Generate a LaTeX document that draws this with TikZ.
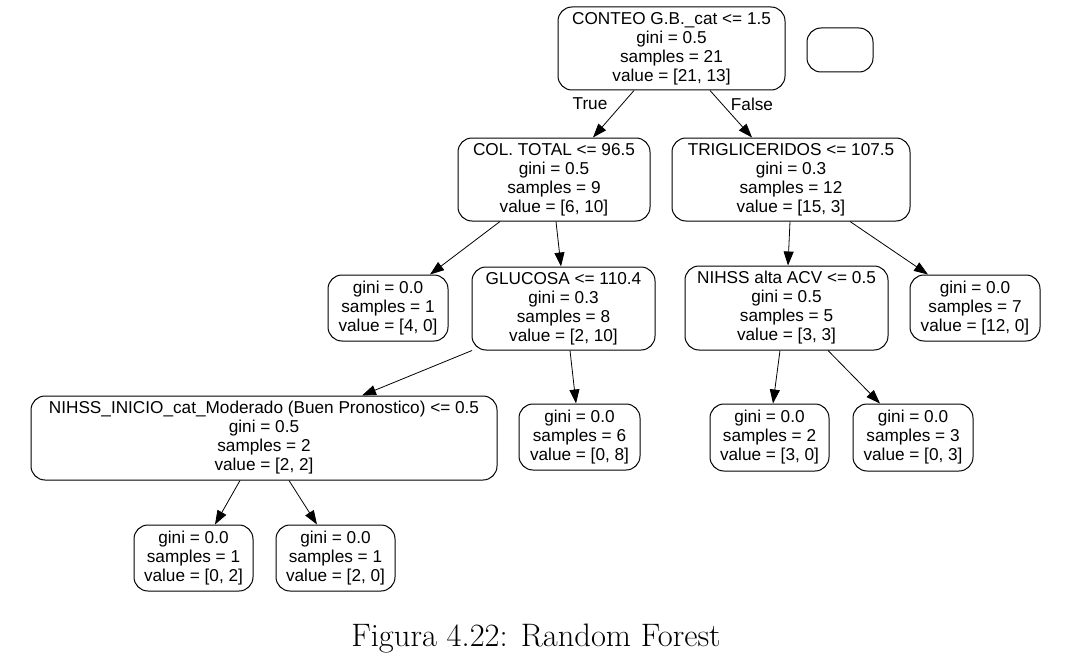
\documentclass[tikz,border=0pt]{standalone}
\usepackage{fontspec}
\newfontfamily\arialf{Liberation Sans}
\usetikzlibrary{arrows.meta}
\tikzset{
  tbox/.style={draw=black, line width=1pt, rounded corners=14pt, inner sep=0pt,
    align=center, font=\arialf\fontsize{17.2}{19}\selectfont},
  edge/.style={line width=0.8pt, -{Triangle[length=14pt,width=10pt]}},
  elabel/.style={font=\arialf\fontsize{17.2}{19}\selectfont, inner sep=0pt}
}
\begin{document}
\begin{tikzpicture}[x=1pt,y=-1pt]
\useasboundingbox (0,0) rectangle (1074,661);
\node[tbox, minimum width=227pt, minimum height=83pt] (root) at (671.5,48.5) {CONTEO G.B.\_cat <= 1.5\\gini = 0.5\\samples = 21\\value = [21, 13]};
\node[tbox, minimum width=66pt, minimum height=44pt] (empty) at (840,50) {};
\node[tbox, minimum width=192pt, minimum height=83pt] (col) at (554,179.5) {COL. TOTAL <= 96.5\\gini = 0.5\\samples = 9\\value = [6, 10]};
\node[tbox, minimum width=238pt, minimum height=83pt] (trig) at (791,179.5) {TRIGLICERIDOS <= 107.5\\gini = 0.3\\samples = 12\\value = [15, 3]};
\node[tbox, minimum width=120pt, minimum height=66pt] (l1) at (388,308) {gini = 0.0\\samples = 1\\value = [4, 0]};
\node[tbox, minimum width=183pt, minimum height=83pt] (glu) at (563.5,308.5) {GLUCOSA <= 110.4\\gini = 0.3\\samples = 8\\value = [2, 10]};
\node[tbox, minimum width=203pt, minimum height=84pt] (nih) at (786.5,308) {NIHSS alta ACV <= 0.5\\gini = 0.5\\samples = 5\\value = [3, 3]};
\node[tbox, minimum width=130pt, minimum height=66pt] (l7) at (975,308) {gini = 0.0\\samples = 7\\value = [12, 0]};
\node[tbox, minimum width=466pt, minimum height=84pt] (ini) at (264,438) {NIHSS\_INICIO\_cat\_Moderado (Buen Pronostico) <= 0.5\\gini = 0.5\\samples = 2\\value = [2, 2]};
\node[tbox, minimum width=121pt, minimum height=66pt] (l6) at (579.5,437) {gini = 0.0\\samples = 6\\value = [0, 8]};
\node[tbox, minimum width=119pt, minimum height=67pt] (l2) at (769.5,437.5) {gini = 0.0\\samples = 2\\value = [3, 0]};
\node[tbox, minimum width=120pt, minimum height=67pt] (l3) at (913,437.5) {gini = 0.0\\samples = 3\\value = [0, 3]};
\node[tbox, minimum width=119pt, minimum height=66pt] (l02) at (193.5,558) {gini = 0.0\\samples = 1\\value = [0, 2]};
\node[tbox, minimum width=119pt, minimum height=66pt] (l20) at (335.5,558) {gini = 0.0\\samples = 1\\value = [2, 0]};

\draw[edge] ([xshift=-37.5pt]root.south) -- ([xshift=39pt]col.north);
\draw[edge] ([xshift=38.5pt]root.south) -- ([xshift=-39pt]trig.north);
\draw[edge] ([xshift=-54pt]col.south) -- ([xshift=42pt]l1.north);
\draw[edge] ([xshift=2pt]col.south) -- ([xshift=-2.5pt]glu.north);
\draw[edge] ([xshift=-1pt]trig.south) -- ([xshift=1.5pt]nih.north);
\draw[edge] ([xshift=59pt]trig.south) -- ([xshift=-47pt]l7.north);
\draw[edge] ([xshift=-91.5pt]glu.south) -- ([xshift=98pt]ini.north);
\draw[edge] ([xshift=6.5pt]glu.south) -- ([xshift=-3.5pt]l6.north);
\draw[edge] ([xshift=-6.5pt]nih.south) -- ([xshift=3.5pt]l2.north);
\draw[edge] ([xshift=41.5pt]nih.south) -- ([xshift=-33pt]l3.north);
\draw[edge] ([xshift=-24pt]ini.south) -- ([xshift=21.5pt]l02.north);
\draw[edge] ([xshift=25pt]ini.south) -- ([xshift=-18.5pt]l20.north);

\node[elabel] (ltrue) at (590,104) {True};
\node[elabel] (lfalse) at (752,104) {False};

\node[font=\fontsize{32.5}{36}\selectfont, inner sep=0pt, anchor=base] (cap) at (536,646) {Figura 4.22: Random Forest};
\end{tikzpicture}
\end{document}
